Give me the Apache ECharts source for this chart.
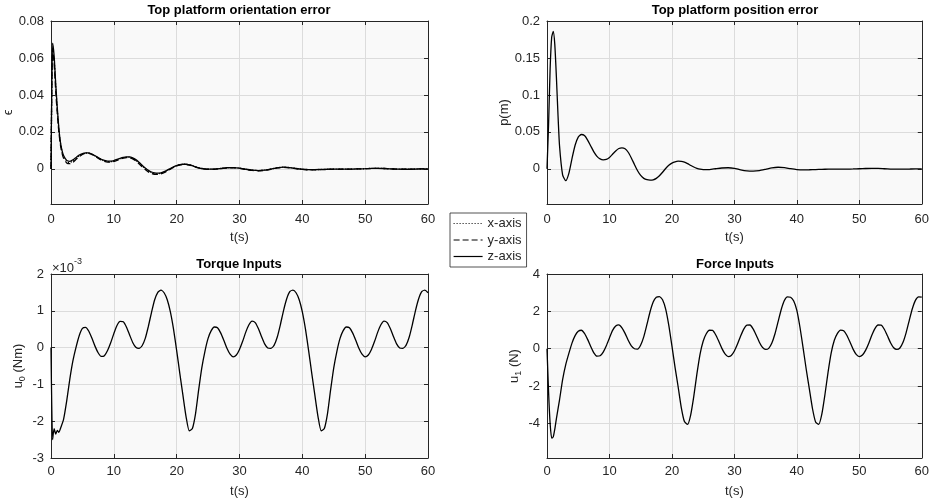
<!DOCTYPE html>
<html>
<head>
<meta charset="utf-8">
<script src="https://cdn.jsdelivr.net/npm/echarts@6/dist/echarts.min.js"></script>
<style>
  html, body { margin: 0; padding: 0; background: #fff; }
  #chart { width: 932px; height: 504px; }
</style>
</head>
<body>
<div id="chart"></div>
<script>
// time base for the two error plots (s)
var tErr = [0, 0.25, 0.5, 0.75, 1, 1.25, 1.5, 1.75, 2,
  2.5, 3, 3.5, 4, 4.5, 5, 5.5, 6, 6.5, 7, 7.5, 8, 8.5, 9, 9.5, 10,
  10.5, 11, 11.5, 12, 12.5, 13, 13.5, 14, 14.5, 15, 15.5, 16, 16.5, 17, 17.5, 18,
  18.5, 19, 19.5, 20, 20.5, 21, 21.5, 22, 22.5, 23, 23.5, 24, 24.5, 25,
  26, 27, 28, 29, 30, 31, 32, 33, 34, 35, 36, 37, 38, 39, 40,
  41, 42, 43, 44, 45, 46, 47, 48, 49, 50, 51, 52, 53, 54, 55, 56, 57, 58, 59, 60];

// orientation error, one array per axis
var oriX = [0, 0.062, 0.059, 0.045, 0.032, 0.021, 0.0138, 0.0093, 0.0066,
  0.0040, 0.0035, 0.0043, 0.0057, 0.0071, 0.0081, 0.0086, 0.0085, 0.0079, 0.0070, 0.0060, 0.0050, 0.0043, 0.0039, 0.0039, 0.0042,
  0.0048, 0.0055, 0.0060, 0.0063, 0.0063, 0.0057, 0.0047, 0.0032, 0.0016, 0.0001, -0.0012, -0.0021, -0.0026, -0.0027, -0.0024, -0.0018,
  -0.0009, 0.0000, 0.0010, 0.0017, 0.0022, 0.0025, 0.0025, 0.0022, 0.0017, 0.0011, 0.0006, 0.0002, 0.0000, -0.0001,
  -0.0001, 0.0002, 0.0006, 0.0007, 0.0004, -0.0002, -0.0007, -0.0009, -0.0007, -0.0001, 0.0006, 0.0009, 0.0007, 0.0002, -0.0002,
  -0.0004, -0.0004, -0.0003, -0.0002, -0.0001, -0.0001, -0.0001, -0.0001, 0.0000, 0.0001, 0.0003, 0.0003, 0.0002, 0.0000, -0.0001, -0.0002, -0.0002, -0.0001, 0.0000, 0.0000];
var oriY = [0, 0.065, 0.057, 0.042, 0.030, 0.020, 0.013, 0.0085, 0.0058,
  0.0032, 0.0028, 0.0036, 0.0052, 0.0067, 0.0078, 0.0084, 0.0084, 0.0078, 0.0068, 0.0058, 0.0048, 0.0040, 0.0036, 0.0036, 0.0040,
  0.0046, 0.0053, 0.0058, 0.0061, 0.0060, 0.0054, 0.0043, 0.0028, 0.0012, -0.0003, -0.0016, -0.0025, -0.0029, -0.0030, -0.0027, -0.0020,
  -0.0011, -0.0001, 0.0008, 0.0016, 0.0021, 0.0024, 0.0024, 0.0021, 0.0016, 0.0010, 0.0005, 0.0001, -0.0001, -0.0002,
  -0.0002, 0.0001, 0.0005, 0.0006, 0.0003, -0.0003, -0.0008, -0.0010, -0.0008, -0.0002, 0.0005, 0.0008, 0.0006, 0.0001, -0.0003,
  -0.0005, -0.0005, -0.0004, -0.0003, -0.0002, -0.0002, -0.0002, -0.0001, 0.0000, 0.0001, 0.0002, 0.0003, 0.0002, 0.0000, -0.0001, -0.0002, -0.0002, -0.0001, 0.0000, 0.0000];
var oriZ = [0, 0.068, 0.061, 0.046, 0.033, 0.022, 0.0145, 0.0100, 0.0072,
  0.0046, 0.0041, 0.0049, 0.0062, 0.0075, 0.0083, 0.0087, 0.0086, 0.0080, 0.0071, 0.0061, 0.0052, 0.0046, 0.0042, 0.0042, 0.0045,
  0.0051, 0.0057, 0.0062, 0.0065, 0.0065, 0.0060, 0.0050, 0.0036, 0.0020, 0.0005, -0.0008, -0.0017, -0.0022, -0.0023, -0.0021, -0.0015,
  -0.0007, 0.0002, 0.0011, 0.0018, 0.0023, 0.0025, 0.0025, 0.0022, 0.0017, 0.0011, 0.0006, 0.0002, 0.0000, -0.0001,
  -0.0001, 0.0002, 0.0006, 0.0007, 0.0004, -0.0002, -0.0007, -0.0009, -0.0007, -0.0001, 0.0006, 0.0009, 0.0007, 0.0002, -0.0002,
  -0.0004, -0.0004, -0.0003, -0.0002, -0.0001, -0.0001, -0.0001, -0.0001, 0.0000, 0.0001, 0.0003, 0.0003, 0.0002, 0.0000, -0.0001, -0.0002, -0.0002, -0.0001, 0.0000, 0.0000];

// position error p (m)
var posErr = [0, 0.06, 0.135, 0.178, 0.186, 0.168, 0.125, 0.075, 0.032,
  -0.008, -0.016, -0.006, 0.014, 0.032, 0.043, 0.0465, 0.045, 0.039, 0.031, 0.023, 0.017, 0.0135, 0.0122, 0.0128, 0.0155,
  0.0198, 0.0242, 0.0275, 0.0285, 0.0272, 0.0225, 0.0148, 0.006, -0.0025, -0.0088, -0.0128, -0.0147, -0.0152, -0.0148, -0.0128, -0.0092,
  -0.0045, 0.0005, 0.0048, 0.0078, 0.0096, 0.0104, 0.0102, 0.0090, 0.0070, 0.0047, 0.0025, 0.0008, -0.0004, -0.001,
  -0.0009, 0.0002, 0.0012, 0.0015, 0.0008, -0.0012, -0.0026, -0.003, -0.0024, -0.0006, 0.0014, 0.0022, 0.0016, 0.0002, -0.0009,
  -0.0013, -0.0012, -0.0009, -0.0006, -0.0004, -0.0003, -0.0004, -0.0003, -0.0001, 0.0002, 0.0005, 0.0007, 0.0006, 0.0002, -0.0002, -0.0004, -0.0004, -0.0002, 0, 0];

// time base for the input plots (s)
var tIn = [0, 0.25, 0.5, 0.75, 1, 1.25, 1.5,
  2, 2.5, 3, 3.5, 4, 4.5, 5, 5.5, 6, 6.5, 7, 7.5, 8, 8.5, 9, 9.5, 10,
  10.5, 11, 11.5, 12, 12.5, 13, 13.5, 14, 14.5, 15, 15.5, 16, 16.5, 17, 17.5, 18,
  18.5, 19, 19.5, 20, 20.5, 21, 21.5, 22, 22.5, 23, 23.5, 24, 24.5, 25, 25.5, 26,
  26.5, 27, 27.5, 28, 28.5, 29, 29.5, 30, 30.5, 31, 31.5, 32, 32.5, 33, 33.5, 34,
  34.5, 35, 35.5, 36, 36.5, 37, 37.5, 38, 38.5, 39, 39.5, 40, 40.5, 41, 41.5, 42,
  42.5, 43, 43.5, 44, 44.5, 45, 45.5, 46, 46.5, 47, 47.5, 48, 48.5, 49, 49.5, 50,
  50.5, 51, 51.5, 52, 52.5, 53, 53.5, 54, 54.5, 55, 55.5, 56, 56.5, 57, 57.5, 58,
  58.5, 59, 59.5, 60];

// torque input u0, in units of 1e-3 Nm (as on the axis)
var torque = [0, -2.5, -2.2, -2.35, -2.25, -2.3, -2.2,
  -1.95, -1.45, -0.85, -0.35, 0.02, 0.33, 0.52, 0.55, 0.45, 0.26, 0.04, -0.14, -0.24, -0.22, -0.08, 0.13, 0.38,
  0.60, 0.71, 0.70, 0.56, 0.35, 0.14, 0.01, -0.02, 0.05, 0.25, 0.58, 0.96, 1.30, 1.50, 1.56, 1.49,
  1.30, 0.97, 0.50, -0.08, -0.70, -1.30, -1.88, -2.26, -2.20, -1.80, -1.15, -0.55, -0.10, 0.25, 0.46, 0.56,
  0.54, 0.40, 0.20, -0.02, -0.18, -0.25, -0.20, -0.05, 0.17, 0.42, 0.62, 0.72, 0.68, 0.52, 0.30, 0.10,
  -0.01, -0.02, 0.06, 0.28, 0.62, 1.00, 1.32, 1.52, 1.56, 1.49, 1.30, 0.97, 0.50, -0.08, -0.70, -1.30,
  -1.88, -2.26, -2.20, -1.80, -1.15, -0.55, -0.10, 0.25, 0.46, 0.56, 0.54, 0.40, 0.20, -0.02, -0.18, -0.25,
  -0.20, -0.05, 0.17, 0.42, 0.62, 0.72, 0.68, 0.52, 0.30, 0.10, -0.01, -0.02, 0.06, 0.28, 0.62, 1.00,
  1.32, 1.52, 1.56, 1.49];

// force input u1 (N)
var force = [0, -2.3, -4.0, -4.78, -4.72, -4.3, -3.75,
  -2.75, -1.65, -0.85, -0.25, 0.30, 0.70, 0.93, 0.99, 0.82, 0.50, 0.12, -0.22, -0.40, -0.38, -0.18, 0.16, 0.58,
  0.98, 1.22, 1.28, 1.12, 0.82, 0.45, 0.15, 0.00, -0.02, 0.20, 0.65, 1.30, 1.98, 2.50, 2.76, 2.79,
  2.62, 2.12, 1.25, 0.15, -1.00, -2.05, -3.15, -3.90, -4.05, -3.55, -2.55, -1.35, -0.30, 0.40, 0.80, 0.99,
  0.98, 0.75, 0.40, 0.02, -0.28, -0.42, -0.36, -0.12, 0.25, 0.68, 1.05, 1.26, 1.27, 1.06, 0.72, 0.35,
  0.07, -0.04, 0.02, 0.30, 0.80, 1.45, 2.10, 2.58, 2.78, 2.76, 2.55, 2.05, 1.15, 0.05, -1.10, -2.15,
  -3.20, -3.92, -4.05, -3.50, -2.45, -1.25, -0.22, 0.45, 0.82, 1.00, 0.96, 0.72, 0.36, -0.02, -0.30, -0.42,
  -0.34, -0.09, 0.28, 0.72, 1.08, 1.27, 1.26, 1.04, 0.69, 0.32, 0.05, -0.04, 0.04, 0.34, 0.86, 1.52,
  2.15, 2.60, 2.78, 2.76];

var legendNames = ['x-axis', 'y-axis', 'z-axis'];
var titles = ['Top platform orientation error', 'Top platform position error', 'Torque Inputs', 'Force Inputs'];
var xRange = [0, 60, 10];
var yRanges = [[-0.019, 0.08], [-0.0475, 0.2], [-3, 2], [-5.85, 4]];

var font = '"Liberation Sans", Arial, Helvetica, sans-serif';
var ink = '#262626';

function pairs(t, v) {
  return t.map(function (x, i) { return [x, v[i]]; });
}

var grids = [
  { left: 51, top: 21, width: 377, height: 183 },
  { left: 547, top: 21, width: 377, height: 183 },
  { left: 51, top: 274, width: 377, height: 184 },
  { left: 547, top: 274, width: 376, height: 184 }
].map(function (g) {
  g.show = true; g.backgroundColor = '#f9f9f9'; g.borderWidth = 0;
  return g;
});

var yNames = [
  { name: 'ϵ', gap: 33 },
  { name: 'p(m)', gap: 33 },
  { name: '{a|u}{s|0}{a| (Nm)}', gap: 24 },
  { name: '{a|u}{s|1}{a| (N)}', gap: 24 }
];

var xAxes = [], yAxes = [];
grids.forEach(function (g, i) {
  var top = i < 2;
  var line = { show: true, onZero: false, lineStyle: { color: ink, width: 1 } };
  var tick = { show: true, inside: true, length: 4, lineStyle: { color: ink, width: 1 } };
  xAxes.push({
    gridIndex: i, type: 'value', min: xRange[0], max: xRange[1], interval: xRange[2],
    axisLine: line, axisTick: tick,
    axisLabel: { fontSize: 13, color: ink, fontFamily: font, margin: top ? 9 : 7 },
    splitLine: { show: true, lineStyle: { color: '#dcdcdc', width: 1 } },
    name: 't(s)', nameLocation: 'middle', nameGap: 27,
    nameTextStyle: { fontSize: 13, color: ink, fontFamily: font }
  });
  xAxes.push({
    gridIndex: i, type: 'value', position: 'top', min: xRange[0], max: xRange[1], interval: xRange[2],
    axisLine: line, axisTick: tick, axisLabel: { show: false }, splitLine: { show: false }
  });
  var yr = yRanges[i];
  var ycfg = {
    gridIndex: i, type: 'value', min: yr[0], max: yr[1]
  };
  if (i === 2) ycfg.interval = 1;
  yAxes.push(Object.assign({}, ycfg, {
    axisLine: line, axisTick: tick,
    axisLabel: { fontSize: 13, color: ink, fontFamily: font, margin: 7, showMinLabel: i === 2 },
    splitLine: { show: true, lineStyle: { color: '#dcdcdc', width: 1 } },
    name: yNames[i].name, nameLocation: 'middle', nameGap: yNames[i].gap, nameRotate: 90,
    nameTextStyle: {
      fontSize: 13, color: ink, fontFamily: font,
      rich: {
        a: { fontSize: 13, color: ink, fontFamily: font, lineHeight: 17 },
        s: { fontSize: 9, color: ink, fontFamily: font, verticalAlign: 'bottom' }
      }
    }
  }));
  yAxes.push(Object.assign({}, ycfg, {
    position: 'right',
    axisLine: line, axisTick: tick, axisLabel: { show: false }, splitLine: { show: false }
  }));
});

var titleCenters = [239, 735, 239, 735];
var titleTops = [4, 4, 258, 258];
var titleList = titles.map(function (t, i) {
  return {
    text: t, left: titleCenters[i], top: titleTops[i], textAlign: 'center', padding: 0,
    textStyle: { fontSize: 13, fontWeight: 'bold', color: '#000', fontFamily: font }
  };
});
titleList.push({
  text: '{a|×10}{b|-3}', left: 52, top: 257, padding: 0,
  textStyle: {
    fontWeight: 'normal',
    rich: {
      a: { fontSize: 13, fontWeight: 'normal', color: ink, fontFamily: font, lineHeight: 18, verticalAlign: 'bottom' },
      b: { fontSize: 9, fontWeight: 'normal', color: ink, fontFamily: font, verticalAlign: 'top' }
    }
  }
});

function lineSeries(name, gi, t, v, type, z) {
  return {
    name: name, type: 'line', xAxisIndex: gi * 2, yAxisIndex: gi * 2,
    data: pairs(t, v), symbol: 'none', smooth: 0.2, z: z || 2,
    lineStyle: { color: '#000', width: 1.3, type: type || 'solid' },
    itemStyle: { color: '#000' }
  };
}

var series = [
  lineSeries(legendNames[0], 0, tErr, oriX, [1, 2], 2),
  lineSeries(legendNames[1], 0, tErr, oriY, [6, 3], 3),
  lineSeries(legendNames[2], 0, tErr, oriZ, 'solid', 4),
  lineSeries(null, 1, tErr, posErr),
  lineSeries(null, 2, tIn, torque),
  lineSeries(null, 3, tIn, force)
];

var chart = echarts.init(document.getElementById('chart'), null, { renderer: 'canvas' });
chart.setOption({
  animation: false,
  backgroundColor: '#fff',
  title: titleList,
  grid: grids,
  xAxis: xAxes,
  yAxis: yAxes,
  legend: {
    data: legendNames, orient: 'vertical', left: 450, top: 213,
    padding: [4, 5, 4, 3], itemWidth: 29, itemHeight: 14, itemGap: 3.5,
    backgroundColor: '#fff', borderColor: ink, borderWidth: 0.8, borderRadius: 0,
    selectedMode: false,
    itemStyle: { color: 'rgba(0,0,0,0)', borderColor: 'rgba(0,0,0,0)', borderWidth: 0 },
    lineStyle: { color: '#000', width: 1.2, opacity: 1 },
    textStyle: { fontSize: 13, color: ink, fontFamily: font }
  },
  series: series
});
</script>
</body>
</html>
